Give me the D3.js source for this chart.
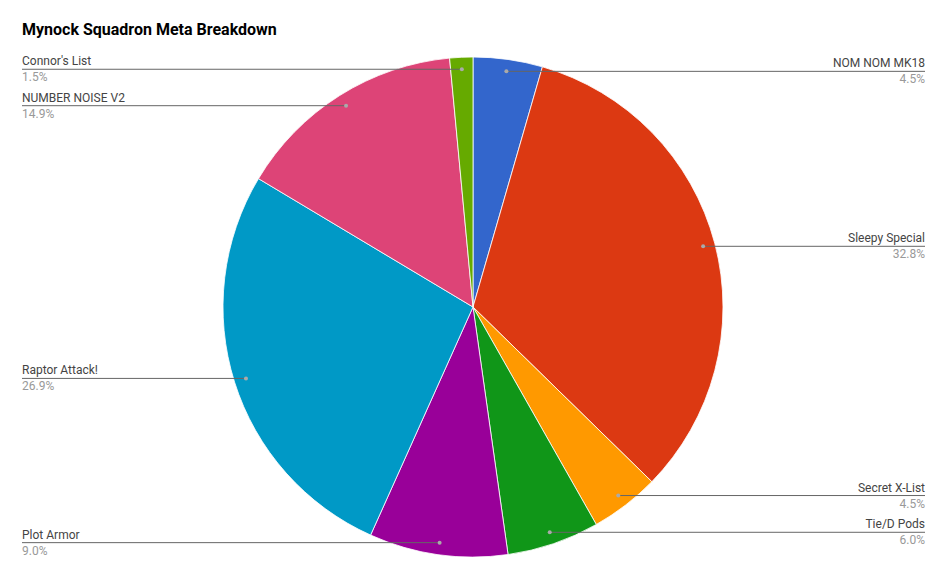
<!DOCTYPE html>
<html><head><meta charset="utf-8">
<script src="https://cdn.jsdelivr.net/npm/d3@7"></script>
<style>body{margin:0;background:#fff;} svg{display:block;font-family:Roboto,"Noto Sans",sans-serif;}</style>
</head><body><svg id="c" width="947" height="580"></svg>
<script>
const title = "Mynock Squadron Meta Breakdown";
const categories = ["NOM NOM MK18","Sleepy Special","Secret X-List","Tie/D Pods","Plot Armor","Raptor Attack!","NUMBER NOISE V2","Connor's List"];
const counts = [3,22,3,4,6,18,10,1];
const colors = ["#3366cc","#dc3912","#ff9900","#109618","#990099","#0099c6","#dd4477","#66aa00"];

const W = 947, H = 580, cx = 473, cy = 307, R = 250;
const svg = d3.select("#c");
svg.append("rect").attr("width",W).attr("height",H).attr("fill","#fff");
svg.append("text").attr("x",22).attr("y",35).attr("font-size",16).attr("font-weight","bold")
  .attr("fill","#000").text(title);

const data = categories.map((c,i)=>({name:c,value:counts[i],color:colors[i]}));
const total = d3.sum(counts);
const pie = d3.pie().value(d=>d.value).sort(null);
const arcs = pie(data);
const arc = d3.arc().innerRadius(0).outerRadius(R);
const g = svg.append("g").attr("transform",`translate(${cx},${cy})`);
g.selectAll("path").data(arcs).join("path").attr("d",arc)
  .attr("fill",d=>d.data.color).attr("stroke","#fff").attr("stroke-width",0.8);

const fmt = d3.format(".1%");
const lr = R*0.952;
const labels = svg.append("g");
arcs.forEach(a=>{
  const mid = (a.startAngle+a.endAngle)/2;
  const px = cx + lr*Math.sin(mid), py = cy - lr*Math.cos(mid);
  const right = px >= cx;
  const x2 = right ? 925 : 22;
  labels.append("line").attr("x1",px).attr("y1",py).attr("x2",x2).attr("y2",py)
    .attr("stroke","#666").attr("stroke-width",1);
  labels.append("circle").attr("cx",px).attr("cy",py).attr("r",2).attr("fill","#aaa");
  const anchor = right ? "end" : "start";
  labels.append("text").attr("x",x2).attr("y",py-4).attr("text-anchor",anchor)
    .attr("font-size",12).attr("fill","#444").text(a.data.name);
  labels.append("text").attr("x",x2).attr("y",py+12).attr("text-anchor",anchor)
    .attr("font-size",12).attr("fill","#999").text(fmt(a.data.value/total));
});
</script></body></html>
